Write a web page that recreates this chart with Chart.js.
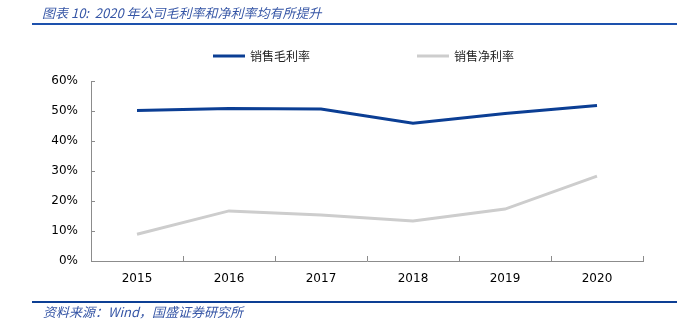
<!DOCTYPE html>
<html lang="zh">
<head>
    <meta charset="UTF-8">
    <title>2020年公司毛利率和净利率均有所提升</title>
    <script src="https://cdn.jsdelivr.net/npm/chart.js"></script>
    <style>
        body {
            margin: 0;
            padding: 0;
            background: #ffffff;
        }
        .wrap {
            position: relative;
            width: 687px;
            height: 325px;
        }
        .caption {
            position: absolute;
            left: 42px;
            top: 3px;
            font-family: "Noto Sans CJK SC", sans-serif;
            font-style: italic;
            font-size: 13px;
            color: #3656a6;
            white-space: pre;
        }
        .rule {
            position: absolute;
            left: 32px;
            width: 645px;
            height: 2px;
            background: #1d51ad;
        }
        .source {
            position: absolute;
            left: 43px;
            top: 302px;
            font-family: "Noto Sans CJK SC", sans-serif;
            font-style: italic;
            font-size: 13px;
            color: #3656a6;
        }
        #chart {
            position: absolute;
            left: 0;
            top: 0;
        }
    </style>
</head>
<body>
<div class="wrap">
    <canvas id="chart" width="687" height="325"></canvas>
    <div class="caption">图表 10:  2020 年公司毛利率和净利率均有所提升</div>
    <div class="rule" style="top:23px"></div>
    <div class="rule" style="top:301px; background:#0d3f94"></div>
    <div class="source">资料来源：Wind，国盛证券研究所</div>
</div>

<script>
    const years = ['2015', '2016', '2017', '2018', '2019', '2020'];
    const grossMargin = [50.2, 50.8, 50.7, 45.9, 49.2, 51.8];
    const netMargin = [8.9, 16.7, 15.3, 13.3, 17.3, 28.3];

    const blue = '#0b3e94';
    const grey = '#cdcdcd';
    const axisColor = '#8c8c8c';

    // short tick marks pointing into the plot, plus a hand-placed legend
    const decor = {
        id: 'decor',
        afterDraw(chart) {
            const ctx = chart.ctx;
            const area = chart.chartArea;
            const y = chart.scales.y;
            ctx.save();
            ctx.strokeStyle = axisColor;
            ctx.lineWidth = 1;
            ctx.beginPath();
            y.ticks.forEach((t, i) => {
                const py = Math.round(y.getPixelForTick(i)) + 0.5;
                ctx.moveTo(area.left, py);
                ctx.lineTo(area.left + 4, py);
            });
            const n = years.length;
            for (let i = 1; i <= n; i++) {
                const px = Math.round(area.left + i * (area.right - area.left) / n) + 0.5;
                ctx.moveTo(px, area.bottom);
                ctx.lineTo(px, area.bottom - 5);
            }
            ctx.stroke();

            const spots = [213, 417];
            ctx.font = '12px "Noto Sans CJK SC", sans-serif';
            ctx.textBaseline = 'middle';
            chart.data.datasets.forEach((ds, i) => {
                const x0 = spots[i];
                ctx.strokeStyle = ds.borderColor;
                ctx.lineWidth = 3;
                ctx.beginPath();
                ctx.moveTo(x0, 56);
                ctx.lineTo(x0 + 32, 56);
                ctx.stroke();
                ctx.fillStyle = '#222';
                ctx.fillText(ds.label, x0 + 37, 56);
            });
            ctx.restore();
        }
    };

    new Chart(document.getElementById('chart'), {
        type: 'line',
        data: {
            labels: years,
            datasets: [
                {
                    label: '销售毛利率',
                    data: grossMargin,
                    borderColor: blue,
                    backgroundColor: blue,
                    borderWidth: 3,
                    pointRadius: 0,
                    tension: 0
                },
                {
                    label: '销售净利率',
                    data: netMargin,
                    borderColor: grey,
                    backgroundColor: grey,
                    borderWidth: 3,
                    pointRadius: 0,
                    tension: 0
                }
            ]
        },
        options: {
            responsive: false,
            animation: false,
            layout: {
                padding: { top: 81, right: 44, bottom: 30, left: 0 }
            },
            plugins: {
                legend: { display: false },
                tooltip: { enabled: false }
            },
            scales: {
                x: {
                    offset: true,
                    afterFit(s) { s.height = 34; },
                    grid: {
                        display: true,
                        offset: true,
                        drawOnChartArea: false,
                        drawTicks: false,
                        color: 'rgba(0,0,0,0)'
                    },
                    border: { color: axisColor, width: 1 },
                    ticks: {
                        padding: 11,
                        color: '#000',
                        font: { family: '"DejaVu Sans", sans-serif', size: 12 }
                    }
                },
                y: {
                    min: 0,
                    max: 60,
                    afterFit(s) { s.width = 91; },
                    grid: {
                        display: true,
                        drawOnChartArea: false,
                        drawTicks: false,
                        color: 'rgba(0,0,0,0)'
                    },
                    border: { color: axisColor, width: 1 },
                    ticks: {
                        stepSize: 10,
                        padding: 13,
                        color: '#000',
                        font: { family: '"DejaVu Sans", sans-serif', size: 12 },
                        callback: v => v + '%'
                    }
                }
            }
        },
        plugins: [decor]
    });
</script>
</body>
</html>
